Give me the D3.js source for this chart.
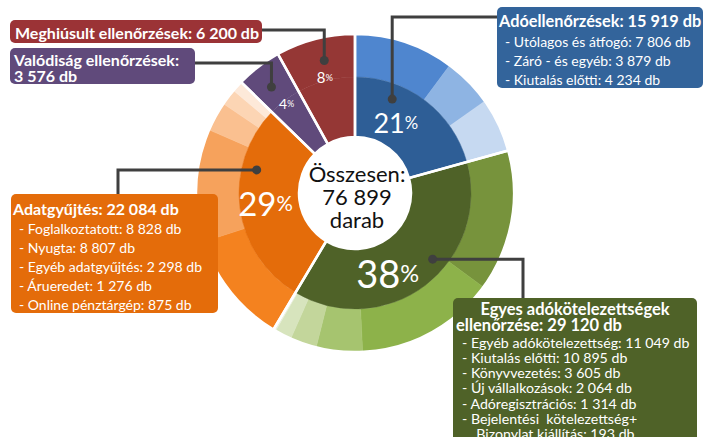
<!DOCTYPE html>
<html>
<head>
<meta charset="utf-8">
<script src="https://cdn.jsdelivr.net/npm/d3@7"></script>
<style>
body { margin: 0; background: #fff; }
svg { display: block; font-family: Lato, "Open Sans", sans-serif; }
</style>
</head>
<body>
<div id="chart"></div>
<script>
var width = 707,
    height = 437;

// main categories (inner ring), clockwise from 12 o'clock
var categories = ["Adóellenőrzések", "Egyes adókötelezettségek ellenőrzése", "Adatgyűjtés", "Valódiság ellenőrzések", "Meghiúsult ellenőrzések"];
var categoryValues = [15919, 29120, 22084, 3576, 6200];
var percentLabels = ["21", "38", "29", "4", "8"];

// sub categories (outer ring)
var adoSubNames = ["Utólagos és átfogó", "Záró - és egyéb", "Kiutalás előtti"];
var adoSubValues = [7806, 3879, 4234];
var egyesSubNames = ["Egyéb adókötelezettség", "Kiutalás előtti", "Könyvvezetés", "Új vállalkozások", "Adóregisztrációs", "Bejelentési  kötelezettség+\nBizonylat kiállítás"];
var egyesSubValues = [11049, 10895, 3605, 2064, 1314, 193];
var adatSubNames = ["Foglalkoztatott", "Nyugta", "Egyéb adatgyűjtés", "Árueredet", "Online pénztárgép"];
var adatSubValues = [8828, 8807, 2298, 1276, 875];

var totalText = ["Összesen:", "darab"];

// colours
var catColors = ["#2e5e96", "#4f6228", "#e46c0a", "#604a7b", "#953735"];
var boxColors = ["#33649b", "#4f6228", "#e46c0a", "#604a7b", "#9b3336"];
var subColors = [
  ["#4f86cf", "#8eb4e3", "#c6d9f1"],
  ["#77933c", "#8db24a", "#a6c46f", "#c3d69b", "#d7e4bd", "#ebf1de"],
  ["#f4821f", "#f6a25c", "#fac090", "#fcd5b4", "#fde9d9"]
];

var subs = [
  {names: adoSubNames, values: adoSubValues},
  {names: egyesSubNames, values: egyesSubValues},
  {names: adatSubNames, values: adatSubValues},
  null,
  null
];

var locale = d3.formatLocale({decimal: ",", thousands: " ", grouping: [3], currency: ["", ""]});
var fmt = locale.format(",d");

var cx = 355, cy = 193;
var r0 = 56, r1 = 116, r2 = 159;

var svg = d3.select("#chart")
  .append("svg")
  .attr("width", width)
  .attr("height", height);

var g = svg.append("g")
  .attr("transform", "translate(" + cx + "," + cy + ")");

var pie = d3.pie().sort(null).value(function(d) { return d.value; });

var catData = categories.map(function(c, i) {
  return {name: c, value: categoryValues[i], i: i};
});
var catArcs = pie(catData);

// leaves for the outer ring (category itself if it has no subs)
var leaves = [];
catData.forEach(function(c, i) {
  if (subs[i]) {
    subs[i].values.forEach(function(v, j) {
      leaves.push({value: v, color: subColors[i][j], cat: i});
    });
  } else {
    leaves.push({value: c.value, color: catColors[i], cat: i});
  }
});
var leafArcs = pie(leaves);

var innerArc = d3.arc().innerRadius(r0).outerRadius(r1);
var outerArc = d3.arc().innerRadius(r1).outerRadius(r2);
var fullArc = d3.arc().innerRadius(r0).outerRadius(r2);

g.selectAll(".leaf")
  .data(leafArcs)
  .enter().append("path")
  .attr("class", "leaf")
  .attr("d", outerArc)
  .attr("fill", function(d) { return d.data.color; })
  .attr("stroke", function(d) { return d.data.color; })
  .attr("stroke-width", 0.5);

g.selectAll(".cat")
  .data(catArcs)
  .enter().append("path")
  .attr("class", "cat")
  .attr("d", innerArc)
  .attr("fill", function(d) { return catColors[d.data.i]; })
  .attr("stroke", function(d) { return catColors[d.data.i]; })
  .attr("stroke-width", 0.5);

// white separators between categories
g.selectAll(".sep")
  .data(catArcs)
  .enter().append("path")
  .attr("class", "sep")
  .attr("d", fullArc)
  .attr("fill", "none")
  .attr("stroke", "#fff")
  .attr("stroke-width", 2.5);

g.append("circle")
  .attr("r", r0)
  .attr("fill", "#fff");

// percentage labels
var pctPos = [
  {f: 0.40, r: 82, size: 27},
  {f: 0.61, r: 86, size: 38},
  {f: 0.51, r: 90, size: 33},
  {f: 0.51, r: 113, size: 14},
  {f: 0.5, r: 120, size: 15}
];

function pointAt(d, f, r) {
  var a = d.startAngle + (d.endAngle - d.startAngle) * f;
  return [r * Math.sin(a), -r * Math.cos(a)];
}

catArcs.forEach(function(d, i) {
  var p = pointAt(d, pctPos[i].f, pctPos[i].r);
  var t = g.append("text")
    .attr("x", p[0])
    .attr("y", p[1])
    .attr("text-anchor", "middle")
    .attr("dominant-baseline", "central")
    .attr("fill", "#fff")
    .style("font-size", pctPos[i].size + "px");
  t.append("tspan").text(percentLabels[i]);
  t.append("tspan").style("font-size", (pctPos[i].size * 0.62) + "px").text("%");
});

// centre text
var total = d3.sum(categoryValues);
var centerLines = [totalText[0], fmt(total), totalText[1]];
g.selectAll(".center")
  .data(centerLines)
  .enter().append("text")
  .attr("class", "center")
  .attr("x", 2)
  .attr("y", function(d, i) { return -20 + i * 23; })
  .attr("text-anchor", "middle")
  .attr("dominant-baseline", "central")
  .style("font-size", "22px")
  .attr("fill", "#111")
  .text(function(d) { return d; });

// annotation boxes
var boxes = [
  {x: 497, y: 7, w: 206, h: 81, titleY: 20, titleStep: 17, breakAt: 0, anchors: ["start"], tx: 499, subX: 505, subY: 41, subStep: 19, titleSize: 16.3, subSize: 14,
   dot: {f: 0.29, r: 101}, path: "up-right", bend: 17},
  {x: 453, y: 298, w: 244, h: 150, titleY: 309, titleStep: 16, breakAt: 2, anchors: ["middle", "start"], tx: 456, subX: 462, subY: 342, subStep: 15.3, titleSize: 16.5, subSize: 14.2,
   dot: {f: 0.41, r: 102}, path: "right-down", bend: 523},
  {x: 11, y: 194, w: 207, h: 119, titleY: 208, titleStep: 17, breakAt: 0, anchors: ["start"], tx: 13, subX: 19, subY: 228, subStep: 19, titleSize: 16, subSize: 14,
   dot: {f: 0.70, r: 101}, path: "left-down", bend: 118},
  {x: 10, y: 48, w: 185, h: 36, titleY: 59, titleStep: 16, breakAt: 2, anchors: ["start"], tx: 14, titleSize: 16,
   dot: {f: 0.45, r: 135}, path: "up-left", bend: 63},
  {x: 10, y: 20, w: 252, h: 23, titleY: 32, titleStep: 16, breakAt: 0, anchors: ["start"], tx: 15, titleSize: 16,
   dot: {f: 0.55, r: 136}, path: "up-left", bend: 30}
];

var ann = svg.append("g");

catArcs.forEach(function(d, i) {
  var b = boxes[i];
  var p = pointAt(d, b.dot.f, b.dot.r);
  var px = cx + p[0], py = cy + p[1];
  var pts;
  if (b.path == "up-right") pts = [[px, py], [px, b.bend], [b.x, b.bend]];
  if (b.path == "up-left") pts = [[px, py], [px, b.bend], [b.x + b.w, b.bend]];
  if (b.path == "left-down") pts = [[px, py], [b.bend, py], [b.bend, b.y]];
  if (b.path == "right-down") pts = [[px, py], [b.bend, py], [b.bend, b.y]];

  ann.append("path")
    .attr("d", d3.line()(pts))
    .attr("fill", "none")
    .attr("stroke", "#3f3f3f")
    .attr("stroke-width", 3);

  ann.append("circle")
    .attr("cx", px)
    .attr("cy", py)
    .attr("r", 4.5)
    .attr("fill", "#3f3f3f");
});

catData.forEach(function(c, i) {
  var b = boxes[i];
  var box = ann.append("g");
  box.append("rect")
    .attr("x", b.x)
    .attr("y", b.y)
    .attr("width", b.w)
    .attr("height", b.h)
    .attr("rx", 5)
    .attr("fill", boxColors[i]);

  var title = c.name + ": " + fmt(c.value) + " db";
  var words = title.split(" ");
  var lines = b.breakAt ? [words.slice(0, b.breakAt).join(" "), words.slice(b.breakAt).join(" ")] : [title];

  lines.forEach(function(l, k) {
    var anchor = b.anchors[k] || "start";
    box.append("text")
      .attr("x", anchor == "middle" ? b.x + b.w / 2 : b.tx)
      .attr("y", b.titleY + k * b.titleStep)
      .attr("text-anchor", anchor)
      .attr("dominant-baseline", "central")
      .attr("fill", "#fff")
      .style("font-weight", "bold")
      .style("font-size", b.titleSize + "px")
      .text(l);
  });

  if (subs[i]) {
    var row = 0;
    subs[i].names.forEach(function(n, j) {
      var parts = n.split("\n");
      parts.forEach(function(part, k) {
        var txt = (k == 0 ? "- " : "  ") + part + (k == parts.length - 1 ? ": " + fmt(subs[i].values[j]) + " db" : "");
        box.append("text")
          .attr("x", b.subX + (k > 0 ? 7 : 0))
          .attr("y", b.subY + row * b.subStep)
          .attr("dominant-baseline", "central")
          .attr("fill", "#fff")
          .style("font-size", b.subSize + "px")
          .style("white-space", "pre")
          .text(txt);
        row++;
      });
    });
  }
});
</script>
</body>
</html>
